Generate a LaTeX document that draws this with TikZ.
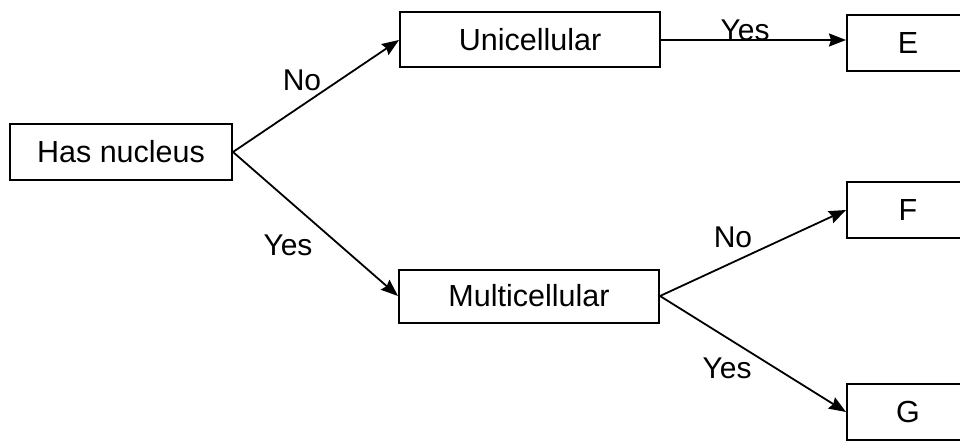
\documentclass[tikz,border=0pt]{standalone}
\usepackage{fontspec}
\setmainfont{Liberation Sans}
\usepackage{tikz}
\usetikzlibrary{arrows.meta}

\begin{document}
\begin{tikzpicture}[
    x=1pt, y=-1pt,
    box/.style={rectangle, draw, line width=2pt, inner sep=0pt,
                minimum width=260pt, minimum height=55pt,
                font=\fontsize{30.5}{35}\selectfont, align=center},
    leaf/.style={box, minimum width=122pt, minimum height=56pt},
    lbl/.style={font=\fontsize{30}{35}\selectfont, inner sep=0pt},
    arrow/.style={-{Stealth[length=17pt,width=13pt,inset=2pt]}, line width=1.8pt}
]
\useasboundingbox (0,0) rectangle (960,441);
\clip (0,0) rectangle (960,441);
\node[box, minimum width=222pt, minimum height=56pt] (nuc) at (121, 152) {Has nucleus};
\node[box] (uni) at (530, 40) {Unicellular};
\node[box, minimum height=53pt] (multi) at (529, 296) {Multicellular};
\node[leaf] (e) at (908, 43) {E};
\node[leaf] (f) at (908, 210) {F};
\node[leaf] (g) at (908, 412) {G};
% answers on the branches
\node[lbl] (nonuc) at (302, 80) {No};
\node[lbl] (yesnuc) at (288, 245) {Yes};
\node[lbl] (yesuni) at (745, 30) {Yes};
\node[lbl] (nomulti) at (733, 237) {No};
\node[lbl] (yesmulti) at (727, 368) {Yes};
\draw[arrow] (nuc.east) -- (uni.west);
\draw[arrow] (nuc.east) -- (multi.west);
\draw[arrow] (uni.east) -- (uni.east -| e.west);
\draw[arrow] (multi.east) -- (f.west);
\draw[arrow] (multi.east) -- (g.west);
\end{tikzpicture}
\end{document}
